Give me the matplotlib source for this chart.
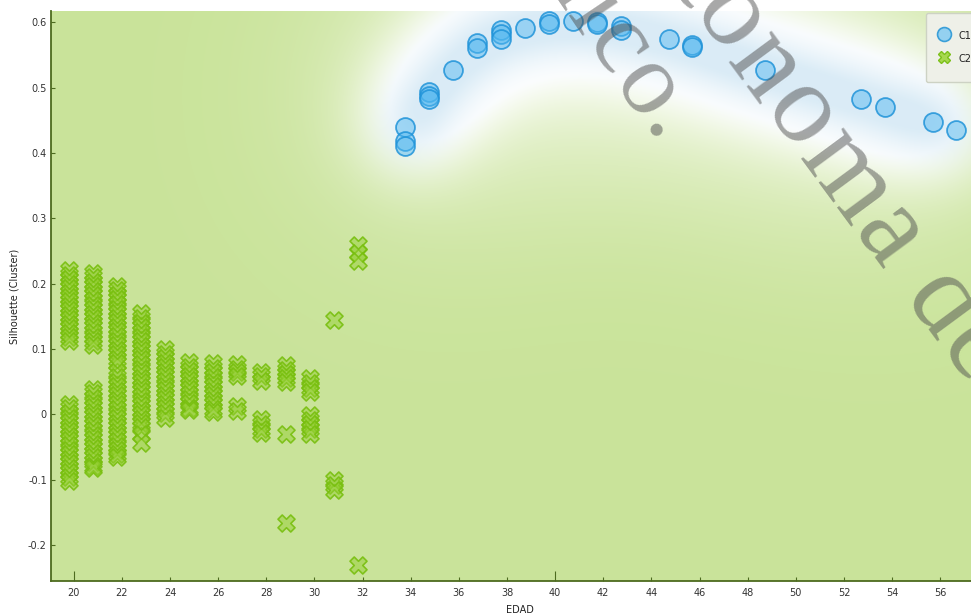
import numpy as np
import matplotlib
matplotlib.use("Agg")
import matplotlib.pyplot as plt
from matplotlib.lines import Line2D

# ---------------- data ----------------
# Cluster C1
c1_edad = [33.75, 33.75, 33.75, 34.75, 34.75, 34.75, 35.75, 36.75, 36.75,
           37.75, 37.75, 37.75, 38.75, 39.75, 39.75, 40.75, 41.75, 41.75,
           42.75, 42.75, 44.75, 45.7, 45.7, 48.7, 52.7, 53.7, 55.7, 56.65]
c1_silueta = [0.440, 0.418, 0.411, 0.493, 0.488, 0.483, 0.528, 0.568, 0.561,
              0.588, 0.582, 0.575, 0.592, 0.602, 0.597, 0.603, 0.600, 0.597,
              0.595, 0.588, 0.574, 0.565, 0.562, 0.527, 0.483, 0.470, 0.448, 0.436]

# Cluster C2: silhouette values for each age column
c2_edades = [19.8, 20.8, 21.8, 22.8, 23.8, 24.8, 25.8, 26.8, 27.8, 28.8, 29.8, 30.8, 31.8]
c2_19_8 = [0.221, 0.214, 0.207, 0.200, 0.193, 0.186, 0.180, 0.173, 0.166, 0.159, 0.152,
           0.146, 0.139, 0.132, 0.125, 0.118, 0.112,
           0.016, 0.009, 0.002, -0.005, -0.012, -0.019, -0.026, -0.033, -0.040, -0.047,
           -0.054, -0.061, -0.068, -0.075, -0.082, -0.089, -0.096, -0.102]
c2_20_8 = [0.217, 0.210, 0.203, 0.196, 0.189, 0.182, 0.175, 0.168, 0.161, 0.154, 0.147,
           0.140, 0.133, 0.126, 0.119, 0.112, 0.106,
           0.039, 0.032, 0.025, 0.018, 0.011, 0.004, -0.003, -0.010, -0.017, -0.024,
           -0.031, -0.038, -0.045, -0.052, -0.059, -0.066, -0.073, -0.079, -0.083]
c2_21_8 = [0.197, 0.190, 0.183, 0.176, 0.169, 0.162, 0.155, 0.148, 0.141, 0.134, 0.127,
           0.120, 0.113, 0.106, 0.099, 0.092, 0.085, 0.078, 0.064, 0.057, 0.050, 0.043,
           0.036, 0.029, 0.022, 0.015, 0.008, 0.001, -0.006, -0.013, -0.020, -0.027,
           -0.034, -0.041, -0.048, -0.055, -0.061, -0.065]
c2_22_8 = [0.155, 0.147, 0.140, 0.133, 0.126, 0.119, 0.112, 0.105, 0.098, 0.091, 0.084,
           0.077, 0.070, 0.063, 0.056, 0.049, 0.042, 0.035, 0.028, 0.021, 0.014, 0.007,
           0.000, -0.007, -0.014, -0.020, -0.030, -0.044]
c2_23_8 = [0.100, 0.093, 0.086, 0.079, 0.072, 0.065, 0.058, 0.051, 0.044, 0.037, 0.030,
           0.023, 0.016, 0.009, 0.002, -0.006]
c2_24_8 = [0.080, 0.073, 0.066, 0.059, 0.052, 0.045, 0.038, 0.031, 0.024, 0.017, 0.010, 0.007]
c2_25_8 = [0.078, 0.071, 0.064, 0.057, 0.050, 0.043, 0.036, 0.029, 0.022, 0.015, 0.008, 0.003]
c2_26_8 = [0.077, 0.070, 0.064, 0.059, 0.013, 0.005]
c2_27_8 = [0.065, 0.058, 0.051, -0.007, -0.015, -0.022, -0.029]
c2_28_8 = [0.075, 0.068, 0.061, 0.055, 0.050, -0.030, -0.166]
c2_29_8 = [0.056, 0.048, 0.041, 0.034, -0.001, -0.008, -0.015, -0.022, -0.030]
c2_30_8 = [0.145, -0.101, -0.108, -0.116]
c2_31_8 = [0.259, 0.247, 0.235, -0.231]

tick_x = list(range(20, 58, 2))
tick_y = [-0.2, -0.1, 0.0, 0.1, 0.2, 0.3, 0.4, 0.5, 0.6]
tick_y_labels = ["-0.2", "-0.1", "0", "0.1", "0.2", "0.3", "0.4", "0.5", "0.6"]

# --------------- figure ---------------
W_PX, H_PX = 971, 614
fig = plt.figure(figsize=(W_PX / 100, H_PX / 100), dpi=100)
fig.patch.set_facecolor("white")
ax = fig.add_axes([51 / W_PX, 33 / H_PX, 937 / W_PX, 570 / H_PX])
x0, x1 = 19.057, 57.985
y0, y1 = -0.2553, 0.6176
ax.set_xlim(x0, x1)
ax.set_ylim(y0, y1)

# --- background: green field with a white/blue glow following cluster C1 ---
gw, gh = 470, 285
gx = np.linspace(x0, x1, gw)
gy = np.linspace(y0, y1, gh)
GX, GY = np.meshgrid(gx, gy)
grid_disp = ax.transData.transform(np.column_stack([GX.ravel(), GY.ravel()]))
PX = grid_disp[:, 0].reshape(gh, gw)
PY = grid_disp[:, 1].reshape(gh, gw)

ages = np.array(sorted(set(c1_edad)))
c1_e = np.array(c1_edad)
c1_s = np.array(c1_silueta)
means = np.array([c1_s[c1_e == a].mean() for a in ages])
curve = ax.transData.transform(np.column_stack([ages, means]))
samples = []
for (ax0, ay0), (ax1, ay1) in zip(curve[:-1], curve[1:]):
    n = max(int(np.hypot(ax1 - ax0, ay1 - ay0) / 2.0), 1)
    t = np.linspace(0, 1, n, endpoint=False)
    samples.append(np.column_stack([ax0 + (ax1 - ax0) * t, ay0 + (ay1 - ay0) * t]))
samples.append(curve[-1:])
samples = np.vstack(samples)


def line_field(sigma):
    """Gaussian density of the C1 curve, ~1 on a straight stretch of it."""
    f = np.zeros_like(PX)
    for sx, sy in samples:
        f += np.exp(-((PX - sx) ** 2 + (PY - sy) ** 2) / (2 * sigma ** 2))
    return f * 2.0 / (np.sqrt(2 * np.pi) * sigma)


f_blue = line_field(24.0)
f_white = line_field(42.0)
f_haze = line_field(110.0)

base = np.array([0.790, 0.892, 0.604])
white = np.array([1.0, 1.0, 1.0])
blue = np.array([0.81, 0.90, 0.955])
w1 = np.clip(1.9 * f_white, 0, 1)
w2 = 0.6 * np.clip(f_haze, 0, 1)
w = (1 - (1 - w1) * (1 - w2))[..., None]
b = (0.75 * np.clip(1.2 * f_blue, 0, 1))[..., None]
img = base * (1 - w) + white * w
img = img * (1 - b) + blue * b
ax.imshow(img, extent=(x0, x1, y0, y1), origin="lower", aspect="auto",
          interpolation="bilinear", zorder=0)

# --- scatter marks ---
c2_columns = [c2_19_8, c2_20_8, c2_21_8, c2_22_8, c2_23_8, c2_24_8, c2_25_8,
              c2_26_8, c2_27_8, c2_28_8, c2_29_8, c2_30_8, c2_31_8]
c2_x = np.concatenate([[e] * len(v) for e, v in zip(c2_edades, c2_columns)])
c2_y = np.concatenate(c2_columns)
ax.scatter(c2_x, c2_y, marker="X", s=150, facecolor=(0.58, 0.81, 0.20, 0.5),
           edgecolor=(0.47, 0.75, 0.06, 0.9), linewidths=1.2, zorder=2)
ax.scatter(c1_edad, c1_silueta, marker="o", s=185, facecolor=(0.32, 0.72, 0.94, 0.48),
           edgecolor=(0.13, 0.58, 0.85, 0.85), linewidths=1.3, zorder=3)

# --- axes styling ---
for side in ("top", "right"):
    ax.spines[side].set_visible(False)
for side in ("left", "bottom"):
    ax.spines[side].set_color("#4d6b1f")
    ax.spines[side].set_linewidth(1.3)

ax.set_xticks(tick_x)
ax.set_xticklabels([str(v) for v in tick_x])
ax.set_yticks(tick_y)
ax.set_yticklabels(tick_y_labels)
ax.tick_params(axis="both", direction="in", length=3, width=0.8, color="#4d6b1f",
               labelsize=7, labelcolor="#333333")
ax.tick_params(axis="x", pad=5)
ax.tick_params(axis="y", pad=3)
for tick in ax.xaxis.get_major_ticks():
    if tick.get_loc() in (20, 40):
        tick.tick1line.set_markersize(7)

ax.set_xlabel("EDAD", fontsize=7, color="#222222", labelpad=5)
ax.set_ylabel("Silhouette (Cluster)", fontsize=7, color="#222222", labelpad=6)

# --- legend ---
handles = [
    Line2D([], [], ls="", marker="o", markersize=10, markerfacecolor=(0.58, 0.82, 0.94),
           markeredgecolor="#3a9fd8", markeredgewidth=1.2),
    Line2D([], [], ls="", marker="X", markersize=9, markerfacecolor="#a6d84e",
           markeredgecolor="#7cc01a", markeredgewidth=1.0),
]
leg = ax.legend(handles, ["C1", "C2"], loc="upper left",
                bbox_to_anchor=(926 / W_PX, 1 - 13 / H_PX), bbox_transform=fig.transFigure,
                fontsize=7, frameon=True, handlelength=0.4, handleheight=2.0,
                labelspacing=0.85, borderpad=1.6, handletextpad=1.3, borderaxespad=0)
leg.get_frame().set_facecolor("#eef0e8")
leg.get_frame().set_edgecolor("#cdd2c4")
leg.get_frame().set_alpha(1)
for txt in leg.get_texts():
    txt.set_color("#222222")

# --- diagonal watermark, laid out glyph by glyph ---
ADVANCE = {"n": 0.500, "i": 0.278, "c": 0.444, "o": 0.500, ".": 0.250, "A": 0.722,
           "u": 0.500, "t": 0.278, "ó": 0.500, "m": 0.778, "a": 0.444, " ": 0.250,
           "d": 0.500, "e": 0.444}


def watermark(text, ref_idx, ref_center, angle, size_pt, pitch_px):
    em_px = size_pt * 100 / 72
    th = np.radians(angle)
    u = np.array([np.cos(th), np.sin(th)])      # reading direction (screen, y down)
    up = np.array([np.sin(th), -np.cos(th)])    # glyph "up" direction
    centers = np.cumsum([ADVANCE[ch] for ch in text]) - np.array([ADVANCE[ch] / 2 for ch in text])
    centers = (centers - centers[ref_idx]) * pitch_px
    origin = np.array(ref_center) - 0.23 * em_px * up
    for ch, s in zip(text, centers):
        if ch == " ":
            continue
        px, py = origin + s * u
        fig.text(px / W_PX, 1 - py / H_PX, ch, ha="center", va="baseline",
                 rotation=-angle, rotation_mode="anchor", fontsize=size_pt,
                 family="Liberation Serif", color="#505050", alpha=0.5, zorder=10)


watermark("nico.", 2, (616, 47), 56.0, 74, 110)
watermark("Autónoma de", 3, (728, 20), 53.6, 82, 120)

fig.savefig("out.png", dpi=100)
